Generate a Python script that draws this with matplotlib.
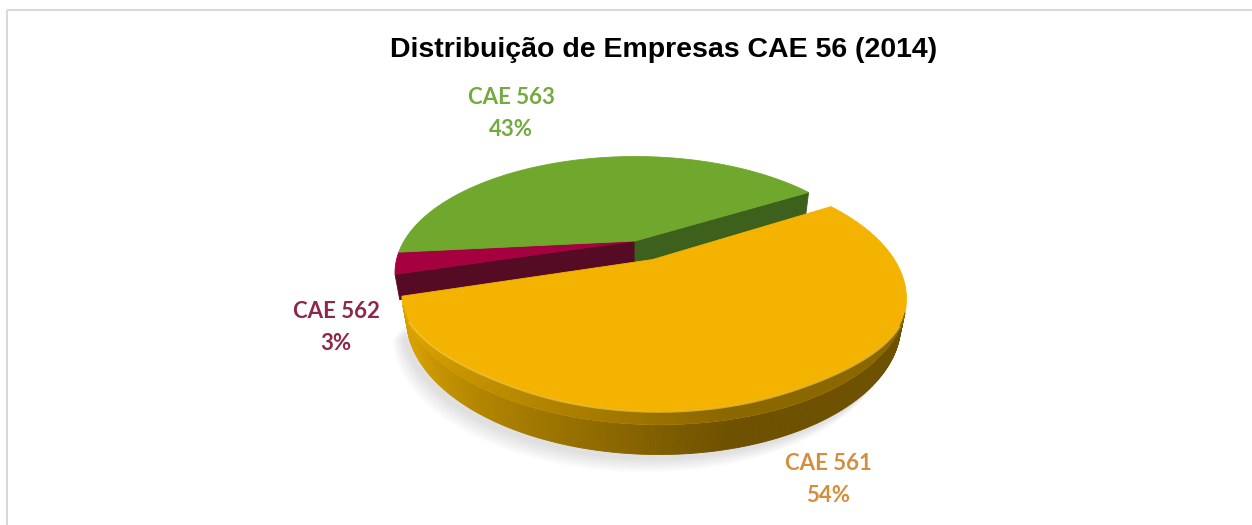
import numpy as np
import matplotlib.pyplot as plt
from matplotlib.patches import Polygon, Rectangle
from matplotlib.colors import to_rgb

# dados
categorias = ['CAE 561', 'CAE 562', 'CAE 563']
valores = [54, 3, 43]
rotulos = ['54%', '3%', '43%']
explodir = [0.18, 0.0, 0.0]

cor_topo = ['#F4B300', '#A5003F', '#70A82E']
cor_parede_clara = ['#D6A000', '#7A0A30', '#4F7F22']
cor_parede_escura = ['#6E5100', '#4E0A1E', '#3A5E1A']
cor_face = ['#735500', '#560B24', '#3D601C']
cor_texto = ['#D58F3C', '#8E2848', '#74AA3E']

# posições dos rótulos (pixels)
pos_rotulos = [(828, 464), (336, 311), (511, 98)]

# geometria 3D
angulo_inicial = 31.0
elev = np.radians(29.6)
dist = 3.25
h = 0.12
bisel = 0.055

cam = np.array([0.0, -dist * np.cos(elev), dist * np.sin(elev)])
fwd = -cam / np.linalg.norm(cam)
up = np.array([0.0, np.sin(elev), np.cos(elev)])
right = np.array([1.0, 0.0, 0.0])


def proj(P):
    P = np.atleast_2d(P)
    v = P - cam
    d = v @ fwd
    return np.column_stack([v @ right / d, v @ up / d])


c0 = proj([0, 0, h])[0]
_t = np.linspace(0, 2 * np.pi, 721)
_r = proj(np.column_stack([np.cos(_t), np.sin(_t), np.full_like(_t, h)]))
k = 240 / (_r[:, 0].max() - c0[0])


def pix(P):
    s = proj(P)
    return np.column_stack([635 + k * (s[:, 0] - c0[0]), 241 - k * (s[:, 1] - c0[1])])


def mistura(c1, c2, t):
    return (1 - t) * np.array(to_rgb(c1)) + t * np.array(to_rgb(c2))


def suave(x):
    x = np.clip(x, 0, 1)
    return x * x * (3 - 2 * x)


# fatias no sentido horário
fatias = []
a = angulo_inicial
for v in valores:
    amp = 360 * v / sum(valores)
    fatias.append((np.radians(a - amp), np.radians(a)))
    a -= amp

fig = plt.figure(figsize=(12.52, 5.25), dpi=100)
ax = fig.add_axes([0, 0, 1, 1])
ax.set_xlim(0, 1252)
ax.set_ylim(525, 0)
ax.axis('off')

# moldura
ax.add_patch(Rectangle((7, 10), 1300, 600, fill=False, ec='#D9D9D9', lw=1.5))

ordem = sorted(range(len(valores)), key=lambda i: explodir[i])
grupos = [[i for i in ordem if explodir[i] == 0], [i for i in ordem if explodir[i] > 0]]

for grupo in grupos:
    tops = []
    for i in grupo:
        lo, hi = fatias[i]
        mid = (lo + hi) / 2
        off = explodir[i] * np.array([np.cos(mid), np.sin(mid), 0])
        th = np.linspace(lo, hi, 300)
        circ = np.column_stack([np.cos(th), np.sin(th), np.zeros_like(th)])
        rim = circ + off
        topo = rim + [0, 0, h]
        centro = off + [0, 0, h]

        # largura do bisel: some nas bordas da silhueta e no início da fatia
        vis = np.array([-(c @ (r - cam)) / np.linalg.norm(r - cam) for c, r in zip(circ, rim)])
        larg = suave(vis / 0.6) * suave((th - lo) / np.radians(16))
        if explodir[i] == 0:
            larg = larg * 0
        interno = circ * (1 - bisel * larg)[:, None] + off + [0, 0, h]

        # sombra suave
        if explodir[i] > 0:
            base = pix(np.vstack([off, rim]))
            for s in range(10):
                ax.add_patch(Polygon(base + [-5 - s * 1.0, 5 + s * 1.4], closed=True,
                                     fc='#7F7F7F', ec='none', alpha=0.022, zorder=1))

        # parede externa + bisel
        pt = pix(topo)
        pb = pix(rim)
        pi_ = pix(interno)
        for j in range(len(th) - 1):
            if vis[j] + vis[j + 1] <= 0:
                continue
            ang = np.degrees((th[j] + th[j + 1]) / 2) % 360
            t = np.clip((ang - 212) / 70, 0, 1)
            cor = mistura(cor_parede_clara[i], cor_parede_escura[i], t)
            quad = np.array([pt[j], pt[j + 1], pb[j + 1], pb[j]])
            ax.add_patch(Polygon(quad, closed=True, fc=cor, ec=cor, lw=0.6, zorder=2))
            if explodir[i] > 0:
                cb = 0.78 * cor + 0.22 * np.array(to_rgb(cor_topo[i]))
                quad = np.array([pi_[j], pi_[j + 1], pt[j + 1], pt[j]])
                ax.add_patch(Polygon(quad, closed=True, fc=cb, ec=cb, lw=0.6, zorder=4))

        # faces radiais (só onde a vizinha está separada)
        for ang, sinal in ((lo, -1), (hi, 1)):
            viz = (i - 1) % len(valores) if sinal > 0 else (i + 1) % len(valores)
            if explodir[viz] == explodir[i]:
                continue
            n = np.array([np.cos(ang + sinal * np.pi / 2), np.sin(ang + sinal * np.pi / 2), 0])
            r = off + [np.cos(ang), np.sin(ang), 0]
            if n @ ((r + off) / 2 - cam) >= 0:
                continue
            quad = pix(np.array([centro, r + [0, 0, h], r, off]))
            ax.add_patch(Polygon(quad, closed=True, fc=cor_face[i], ec=cor_face[i], lw=0.6, zorder=2))

        tops.append((i, pix(np.vstack([centro, topo]))))
        if explodir[i] > 0:
            sel = larg > 0.05
            ax.plot(pi_[sel, 0], pi_[sel, 1], color='#FAD25A', lw=1.2, alpha=0.6, zorder=4.5)

    for i, poly in tops:
        ax.add_patch(Polygon(poly, closed=True, fc=cor_topo[i], ec=cor_topo[i], lw=0.6, zorder=3))

# rótulos
for i in range(len(valores)):
    x, y = pos_rotulos[i]
    ax.text(x, y, categorias[i], ha='center', va='center', fontsize=16, fontweight='bold',
            family='Lato', color=cor_texto[i], zorder=5)
    ax.text(x, y + 32, rotulos[i], ha='center', va='center', fontsize=16, fontweight='bold',
            family='Lato', color=cor_texto[i], zorder=5)

ax.text(664, 50, 'Distribuição de Empresas CAE 56 (2014)', ha='center', va='center',
        fontsize=20.5, fontweight='bold', family='Liberation Sans', color='black')

fig.savefig('out.png', dpi=100)
